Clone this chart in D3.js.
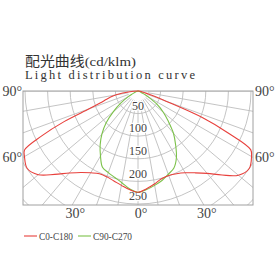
<!DOCTYPE html>
<html><head><meta charset="utf-8">
<script src="https://cdn.jsdelivr.net/npm/d3@7"></script>
<style>
html,body{margin:0;padding:0;background:#fff;}
svg{display:block;}
</style></head>
<body>
<script>
// ---- data (cd/klm) ----
const angles = [0,5,10,15,20,25,30,35,40,45,50,55,60,62.5,65,67.5,70,72.5,75,77.5,80,85,90];
const c0   = [224,217,209,201,199,202,209,221,238,263,290,300,290,281,221,155,66,35,18,10,7,2,0];
const c180 = [224,219,212,206,202,202,209,220,237,261,288,299,290,283,235,177,115,88,73,62,49,18,0];
const c90  = [225,219,212,205,196,188,170,145,122,95,73,51,27,18,9,6,3,2,1,0,0,0,0];
const c270 = [224,217,206,198,192,186,166,146,124,100,71,46,24,15,9,6,3,2,1,0,0,0,0];
const ringValues = [50,100,150,200,250,300,350];
const ringLabels = [50,100,150,200,250];
const gridAngles = [0,10,20,30,40,50,60,70,80,90];
const angleLabels = [0,30,60,90];
const seriesNames = ["C0-C180","C90-C270"];
const titleCN = "配光曲线(cd/klm)";
const titleEN = "Light distribution curve";

const FONT = "'Times New Roman','Liberation Serif','DejaVu Serif','Noto Sans CJK SC',serif";
const W=280,H=280;
const fx0=23, fx1=253, fy0=91, fy1=205;
const cx=(fx0+fx1)/2, cy=fy0;
const r = d3.scaleLinear().domain([0,250]).range([0,113]);
const deg = d=>d*Math.PI/180;

const svg = d3.select("body").append("svg").attr("width",W).attr("height",H)
  .attr("font-family",FONT);
svg.append("defs").append("clipPath").attr("id","fr")
  .append("rect").attr("x",fx0).attr("y",fy0).attr("width",fx1-fx0).attr("height",fy1-fy0);

const g = svg.append("g").attr("clip-path","url(#fr)");
g.selectAll("circle.ring").data(ringValues).enter().append("circle")
  .attr("cx",cx).attr("cy",cy).attr("r",d=>r(d))
  .attr("fill","none").attr("stroke","#bdbdbd").attr("stroke-width",0.9);
const rad = [];
gridAngles.forEach(a=>{ rad.push(a); if(a>0) rad.push(-a); });
g.selectAll("line.rad").data(rad).enter().append("line")
  .attr("x1",d=>cx+r(22)*Math.sin(deg(d))).attr("y1",d=>cy+r(22)*Math.cos(deg(d)))
  .attr("x2",d=>cx+r(420)*Math.sin(deg(d))).attr("y2",d=>cy+r(420)*Math.cos(deg(d)))
  .attr("stroke","#bdbdbd").attr("stroke-width",0.9);

svg.append("rect").attr("x",fx0).attr("y",fy0).attr("width",fx1-fx0).attr("height",fy1-fy0)
  .attr("fill","none").attr("stroke","#a0a0a0").attr("stroke-width",1);

svg.selectAll("text.rl").data(ringLabels).enter().append("text")
  .attr("x",cx).attr("y",d=>cy+r(d)-8).attr("dy","0.35em")
  .attr("text-anchor","middle").attr("font-size",12).attr("fill","#444")
  .style("paint-order","stroke").style("stroke","#fff").style("stroke-width","2.5px")
  .text(d=>d);

function pts(left,right){
  const p=[];
  for(let i=angles.length-1;i>=0;i--) p.push([Math.PI+deg(angles[i]), r(left[i])]);
  for(let i=1;i<angles.length;i++) p.push([Math.PI-deg(angles[i]), r(right[i])]);
  return p;
}
const lr = d3.lineRadial().angle(d=>d[0]).radius(d=>d[1]).curve(d3.curveCatmullRom.alpha(0.5));
const cg = svg.append("g").attr("transform",`translate(${cx},${cy})`);
cg.append("path").attr("d",lr(pts(c270,c90))).attr("fill","none").attr("stroke","#7cc24a").attr("stroke-width",1.1);
cg.append("path").attr("d",lr(pts(c180,c0))).attr("fill","none").attr("stroke","#e8403c").attr("stroke-width",1.1);

const hw=(fx1-fx0)/2, hh=fy1-fy0;
angleLabels.forEach(a=>{
  [-1,1].forEach(s=>{
    if(a===0 && s<0) return;
    const sn=Math.sin(deg(a)), cs=Math.cos(deg(a));
    const t=Math.min(sn>1e-9?hw/sn:1e9, cs>1e-9?hh/cs:1e9);
    const x=cx+s*t*sn, y=cy+t*cs;
    const lab = svg.append("text").attr("font-size",14).attr("fill","#444").text(a+"°");
    if(Math.abs(t*sn-hw)<0.5){
      lab.attr("x", s<0? x-1 : x+2).attr("y",y).attr("dy","0.35em")
         .attr("text-anchor", s<0?"end":"start");
    } else {
      lab.attr("x",x+3).attr("y",y+13).attr("text-anchor","middle");
    }
  });
});

svg.append("text").attr("x",25).attr("y",66).attr("font-size",13.5).attr("fill","#333")
  .attr("textLength",111).attr("lengthAdjust","spacingAndGlyphs").text(titleCN);
svg.append("text").attr("x",25).attr("y",78.5).attr("font-size",12.5).attr("fill","#333")
  .attr("textLength",170).attr("lengthAdjust","spacing").text(titleEN);

const lg = svg.append("g");
const cols=["#e8403c","#7cc24a"];
const lx=[24,78], tw=[34,39];
seriesNames.forEach((n,i)=>{
  lg.append("line").attr("x1",lx[i]).attr("x2",lx[i]+13).attr("y1",236).attr("y2",236)
    .attr("stroke",cols[i]).attr("stroke-width",1.1);
  lg.append("text").attr("x",lx[i]+15).attr("y",239.5).attr("font-size",10.5).attr("fill","#444")
    .attr("textLength",tw[i]).attr("lengthAdjust","spacingAndGlyphs").text(n);
});
</script>
</body></html>
